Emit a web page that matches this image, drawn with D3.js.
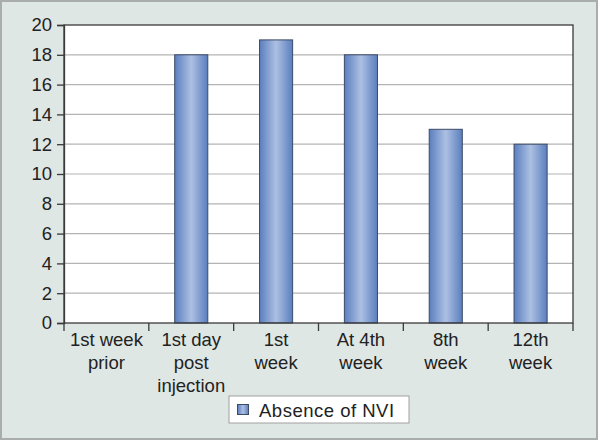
<!DOCTYPE html>
<html><head><meta charset="utf-8">
<script src="https://cdn.jsdelivr.net/npm/d3@7"></script>
<style>html,body{margin:0;padding:0;background:#fff;}svg{display:block;}</style>
</head><body>
<svg id="c" width="600" height="441"></svg>
<script>
const categories = [["1st week","prior"],["1st day","post","injection"],["1st","week"],["At 4th","week"],["8th","week"],["12th","week"]];
const values = [0, 18, 19, 18, 13, 12];
const yTicks = [0,2,4,6,8,10,12,14,16,18,20];
const seriesName = "Absence of NVI";

const svg = d3.select("#c");
const W = 600, H = 441;
const m = {left:64, right:573, top:25, bottom:323};
const FONT = "'Liberation Sans', Arial, sans-serif";
const FS = 18.5;

svg.append("rect").attr("x",1).attr("y",1).attr("width",W-4).attr("height",H-3)
  .attr("fill","#dfe7e4").attr("stroke","#a9aeac").attr("stroke-width",2);

const x = d3.scaleBand().domain(d3.range(categories.length)).range([m.left,m.right]).paddingInner(0).paddingOuter(0);
const y = d3.scaleLinear().domain([0,20]).range([m.bottom,m.top]);

const defs = svg.append("defs");
const g = defs.append("linearGradient").attr("id","bg").attr("x1","0").attr("x2","1").attr("y1","0").attr("y2","0");
g.append("stop").attr("offset","0%").attr("stop-color","#5a7ebf");
g.append("stop").attr("offset","50%").attr("stop-color","#adc0e2");
g.append("stop").attr("offset","100%").attr("stop-color","#5a7ebf");

svg.append("rect").attr("x",m.left).attr("y",m.top).attr("width",m.right-m.left).attr("height",m.bottom-m.top).attr("fill","#fff");

svg.append("g").selectAll("line").data(yTicks.slice(1,-1)).join("line")
  .attr("x1",m.left).attr("x2",m.right).attr("y1",d=>y(d)).attr("y2",d=>y(d))
  .attr("stroke","#b4b4b4").attr("stroke-width",1.2);

const bw = x.bandwidth()*0.39;
const barData = values.map((v,i)=>({v,i})).filter(d=>d.v>0);
svg.append("g").selectAll("rect").data(barData).join("rect")
  .attr("x",d=>x(d.i)+(x.bandwidth()-bw)/2)
  .attr("y",d=>y(d.v)).attr("width",bw).attr("height",d=>y(0)-y(d.v))
  .attr("fill","url(#bg)").attr("stroke","#3c4a66").attr("stroke-width",1);

svg.append("rect").attr("x",m.left).attr("y",m.top).attr("width",m.right-m.left).attr("height",m.bottom-m.top)
  .attr("fill","none").attr("stroke","#3a3a3a").attr("stroke-width",1.3);

const yAxis = d3.axisLeft(y).tickValues(yTicks).tickSize(7).tickPadding(5);
const ya = svg.append("g").attr("transform",`translate(${m.left},0)`).call(yAxis);
ya.select(".domain").attr("stroke","#3a3a3a").attr("stroke-width",1.3);
ya.selectAll(".tick line").attr("stroke","#3a3a3a").attr("stroke-width",1.3);
ya.selectAll("text").attr("font-family",FONT).attr("font-size",FS).attr("fill","#222");

const xTickPos = d3.range(categories.length+1).map(i=> i<categories.length ? x(i) : m.right);
svg.append("g").selectAll("line").data(xTickPos).join("line")
  .attr("x1",d=>d).attr("x2",d=>d).attr("y1",m.bottom).attr("y2",m.bottom+8)
  .attr("stroke","#3a3a3a").attr("stroke-width",1.3);

const lbl = svg.append("g").selectAll("text").data(categories).join("text")
  .attr("x",(d,i)=>x(i)+x.bandwidth()/2).attr("y",346)
  .attr("text-anchor","middle").attr("font-family",FONT)
  .attr("font-size",FS).attr("fill","#222");
lbl.selectAll("tspan").data(d=>d).join("tspan")
  .attr("x",function(){return this.parentNode.getAttribute("x");})
  .attr("dy",(d,i)=>i===0?0:22.8).text(d=>d);

const lg = svg.append("g");
lg.append("rect").attr("x",229).attr("y",396).attr("width",180).attr("height",27)
  .attr("fill","#fff").attr("stroke","#a0a0a0").attr("stroke-width",1);
lg.append("rect").attr("x",237.5).attr("y",404.5).attr("width",11).attr("height",10)
  .attr("fill","url(#bg)").attr("stroke","#3c4a66").attr("stroke-width",1);
lg.append("text").attr("x",259).attr("y",416.5).attr("font-family",FONT)
  .attr("font-size",FS).attr("letter-spacing",0.5).attr("fill","#222").text(seriesName);
</script>
</body></html>
